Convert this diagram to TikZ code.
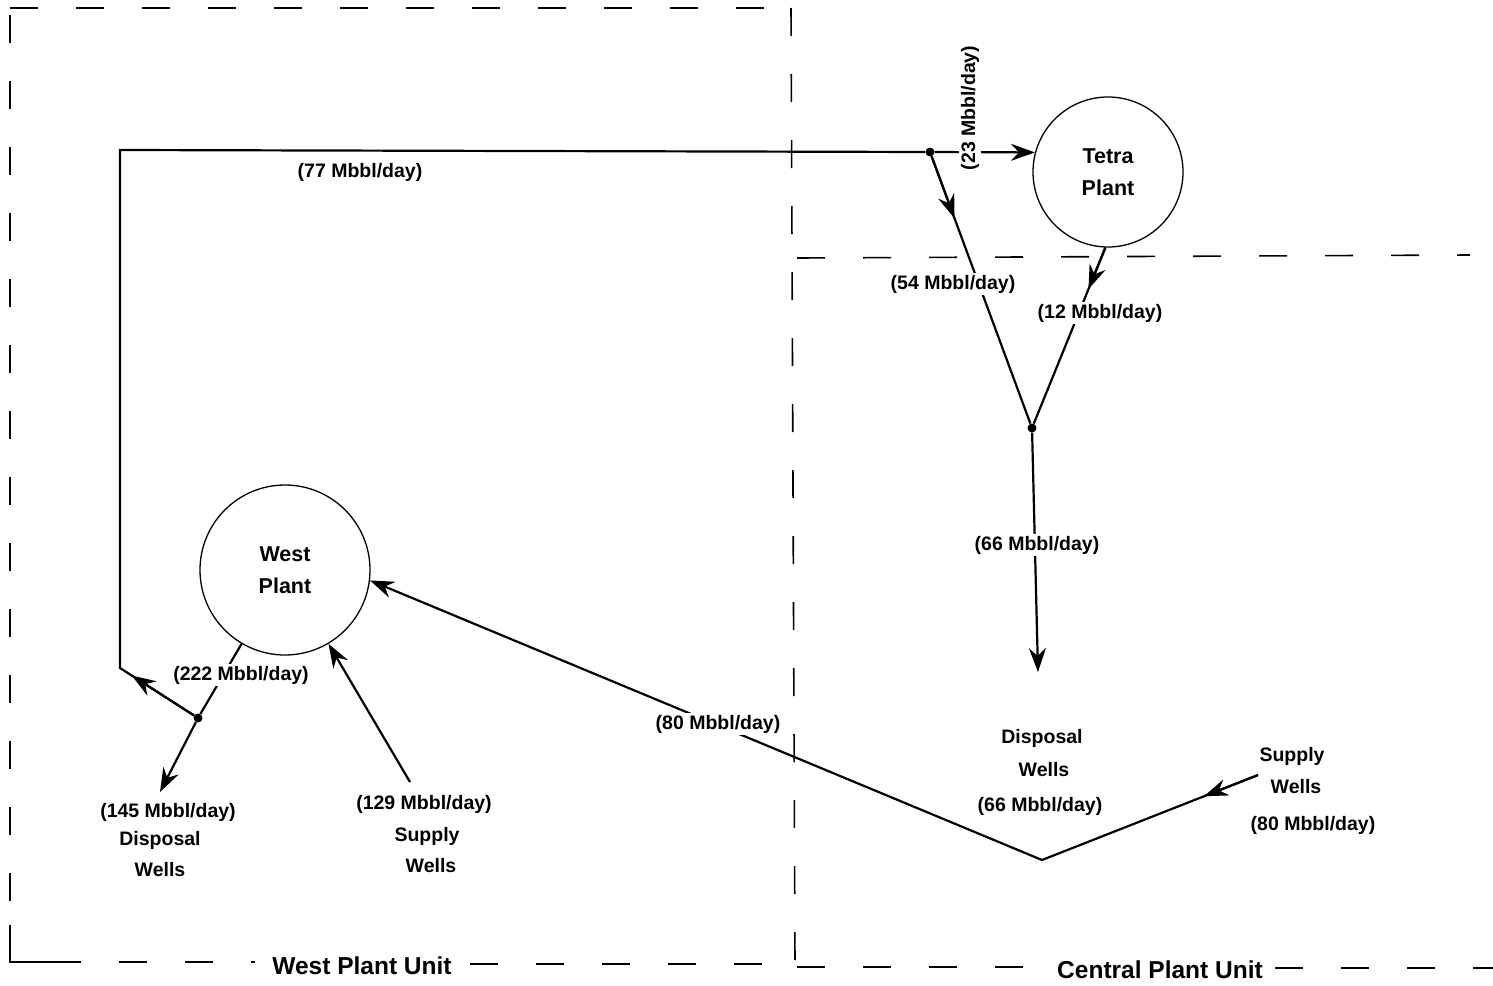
\documentclass[tikz,border=0pt]{standalone}
\usepackage{fontspec}
\setmainfont{Liberation Sans}
\usetikzlibrary{arrows.meta,calc}
\begin{document}
\begin{tikzpicture}[x=1pt,y=-1pt,
  flow/.style={line width=2.2pt},
  lab/.style={font=\fontsize{19.5}{23}\selectfont\bfseries, inner sep=2pt},
  labw/.style={lab, fill=white},
  unitlab/.style={font=\fontsize{24.5}{28}\selectfont\bfseries, inner sep=2pt},
  plant/.style={circle, draw, line width=1.3pt, minimum size=#1, align=center, font=\fontsize{21.5}{32}\selectfont\bfseries},
  bdash/.style={line width=1.6pt, dash pattern=on 28pt off 38pt},
  jdot/.style={circle, fill, inner sep=0pt, minimum size=9pt},
  arr/.style={-{Stealth[length=24pt,width=17pt,inset=8pt]}},
]
\useasboundingbox (0,0) rectangle (1493,985);

% unit boundaries
\draw[bdash] (10,15) -- (10,962) -- (255,962);
\draw[line width=1.6pt] (10,925) -- (10,962) -- (60,962);
\node[unitlab] (wpu) at (362,966) {West Plant Unit};
\draw[bdash] (470,964) -- (790,964);
\draw[bdash] (10,8) -- (790,8);
\draw[bdash] (791,8) -- (795,965);
\draw[bdash] (797,967) -- (1050,967);
\node[unitlab] (cpu) at (1160,970) {Central Plant Unit};
\draw[bdash] (1275,968) -- (1493,968);
\draw[bdash] (797,258) -- (1470,255);

% plants
\node[plant=170pt] (west) at (285,570) {West\\Plant};
\node[plant=150pt] (tetra) at (1108,172) {Tetra\\Plant};

% junctions and corners
\coordinate (c1) at (120,150);
\coordinate (c2) at (120,668);
\node[jdot] (jtop) at (930,152) {};
\node[jdot] (jy) at (1032,428) {};
\node[jdot] (jw) at (198,718) {};
\coordinate (v) at (1042,860);
\coordinate (dw145) at (160,792);
\coordinate (s129) at (410,782);
\coordinate (s80) at (1258,775);
\coordinate (dwc) at (1038,672);

% west plant outflow
\draw[flow] (west) -- (jw);
\node[labw] (l222) at (241,675) {(222 Mbbl/day)};
\draw[flow, arr] (jw) -- (dw145);
\draw[flow, arr] (jw) -- ($(jw)!0.85!(c2)$);
\draw[flow] (jw) -- (c2) -- (c1) -- (jtop);
\node[lab] (l77) at (360,172) {(77 Mbbl/day)};

% to tetra
\draw[flow, arr] (jtop) -- (tetra.165);
\node[labw, rotate=90] (l23) at (970,108) {(23 Mbbl/day)};

% 54 branch
\draw[flow, arr] (jtop) -- ($(jtop)!0.24!(jy)$);
\draw[flow] (jtop) -- (jy);
\node[labw] (l54) at (953,284) {(54 Mbbl/day)};

% 12 branch
\draw[flow, arr] (tetra.-92) -- ($(tetra.-92)!0.23!(jy)$);
\draw[flow] (tetra.-92) -- (jy);
\node[labw] (l12) at (1100,313) {(12 Mbbl/day)};

% 66 to disposal
\draw[flow, arr] (jy) -- (dwc);
\node[labw] (l66) at (1037,545) {(66 Mbbl/day)};

% supply central to west plant
\draw[flow, arr] (s80) -- ($(s80)!0.25!(v)$);
\draw[flow, arr] (s80) -- (v) -- (west.-7);
\node[labw] (l80) at (718,724) {(80 Mbbl/day)};

% supply west
\draw[flow, arr] (s129) -- (west);

% well labels
\node[lab] (t145) at (168,812) {(145 Mbbl/day)};
\node[lab] (t145a) at (160,840) {Disposal};
\node[lab] (t145b) at (160,870) {Wells};
\node[lab] (t129) at (424,804) {(129 Mbbl/day)};
\node[lab] (t129a) at (427,836) {Supply};
\node[lab] (t129b) at (431,866) {Wells};
\node[lab] (tdc) at (1042,738) {Disposal};
\node[lab] (tdca) at (1044,770) {Wells};
\node[lab] (tdcb) at (1040,806) {(66 Mbbl/day)};
\node[lab] (tsc) at (1292,756) {Supply};
\node[lab] (tsca) at (1296,787) {Wells};
\node[lab] (tscb) at (1313,825) {(80 Mbbl/day)};
\end{tikzpicture}
\end{document}
